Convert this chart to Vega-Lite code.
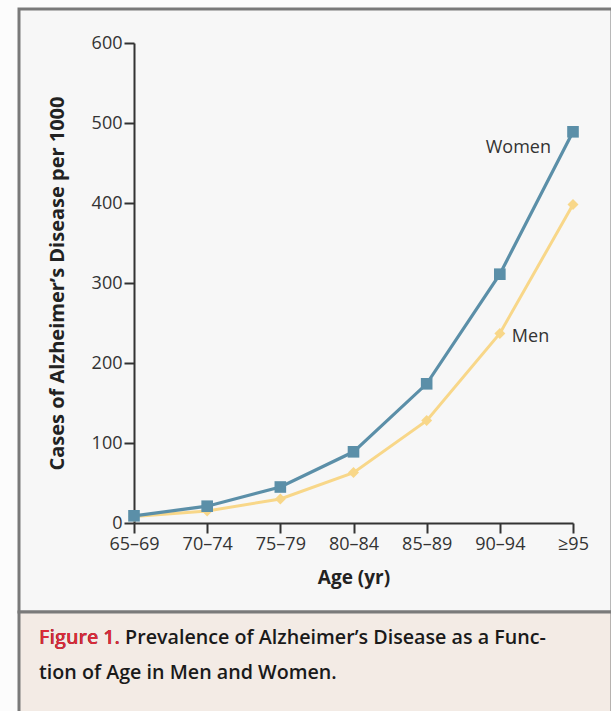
{
  "$schema": "https://vega.github.io/schema/vega-lite/v6.json",
  "background": "#fcfcfc",
  "padding": {"left": 17, "top": 7, "right": 1, "bottom": 0},
  "spacing": 0,
  "bounds": "flush",
  "config": {
    "font": "Open Sans",
    "view": {"fill": "#f7f7f7", "stroke": "#7a7a7a", "strokeWidth": 3}
  },
  "datasets": {
    "prev": [
      {"age": "65–69", "series": "Men", "cases": 8},
      {"age": "70–74", "series": "Men", "cases": 15},
      {"age": "75–79", "series": "Men", "cases": 30},
      {"age": "80–84", "series": "Men", "cases": 63},
      {"age": "85–89", "series": "Men", "cases": 128},
      {"age": "90–94", "series": "Men", "cases": 237},
      {"age": "≥95", "series": "Men", "cases": 398},
      {"age": "65–69", "series": "Women", "cases": 9},
      {"age": "70–74", "series": "Women", "cases": 21},
      {"age": "75–79", "series": "Women", "cases": 45},
      {"age": "80–84", "series": "Women", "cases": 89},
      {"age": "85–89", "series": "Women", "cases": 174},
      {"age": "90–94", "series": "Women", "cases": 311},
      {"age": "≥95", "series": "Women", "cases": 489}
    ],
    "caption": [
      {"line": 1, "text": "Figure 1. Prevalence of Alzheimer’s Disease as a Func-", "lead": "Figure 1."},
      {"line": 2, "text": "tion of Age in Men and Women.", "lead": ""}
    ]
  },
  "vconcat": [
    {
      "width": 593,
      "height": 603,
      "data": {"name": "prev"},
      "encoding": {
        "x": {
          "field": "age", "type": "ordinal",
          "sort": ["65–69", "70–74", "75–79", "80–84", "85–89", "90–94", "≥95"],
          "scale": {"type": "point", "range": [115, 554], "padding": 0},
          "axis": {
            "title": "Age (yr)", "offset": -89, "grid": false,
            "domainColor": "#333", "domainWidth": 2,
            "tickColor": "#333", "tickWidth": 2, "tickSize": 10,
            "labelAngle": 0, "labelFontSize": 18, "labelColor": "#333", "labelPadding": 2,
            "titleFontSize": 19, "titleFontWeight": "bold", "titleColor": "#222", "titlePadding": 15
          }
        },
        "y": {
          "field": "cases", "type": "quantitative",
          "scale": {"domain": [0, 600], "range": [514, 34], "nice": false},
          "axis": {
            "title": "Cases of Alzheimer’s Disease per 1000", "offset": -115, "grid": false,
            "values": [0, 100, 200, 300, 400, 500, 600],
            "domainColor": "#333", "domainWidth": 2,
            "tickColor": "#333", "tickWidth": 2, "tickSize": 10,
            "labelFontSize": 18, "labelColor": "#333", "labelPadding": 2,
            "titleFontSize": 20, "titleFontWeight": "bold", "titleColor": "#222", "titlePadding": 24
          }
        },
        "color": {
          "field": "series", "type": "nominal",
          "scale": {"domain": ["Men", "Women"], "range": ["#f8d789", "#5b8fa8"]},
          "legend": null
        }
      },
      "layer": [
        {
          "mark": {"type": "line"},
          "encoding": {
            "strokeWidth": {"field": "series", "type": "nominal", "scale": {"domain": ["Men", "Women"], "range": [3, 3.2]}, "legend": null}
          }
        },
        {
          "mark": {"type": "point", "filled": true, "opacity": 1},
          "encoding": {
            "shape": {"field": "series", "type": "nominal", "scale": {"domain": ["Men", "Women"], "range": ["diamond", "square"]}, "legend": null},
            "size": {"field": "series", "type": "nominal", "scale": {"domain": ["Men", "Women"], "range": [120, 135]}, "legend": null}
          }
        },
        {
          "transform": [{"filter": "datum.series === 'Women' && datum.age === '≥95'"}],
          "mark": {"type": "text", "align": "right", "baseline": "middle", "dx": -22, "dy": 16, "fontSize": 18, "color": "#333"},
          "encoding": {"text": {"field": "series"}, "color": {"value": "#333"}}
        },
        {
          "transform": [{"filter": "datum.series === 'Men' && datum.age === '90–94'"}],
          "mark": {"type": "text", "align": "left", "baseline": "middle", "dx": 12, "dy": 4, "fontSize": 18, "color": "#333"},
          "encoding": {"text": {"field": "series"}, "color": {"value": "#333"}}
        }
      ]
    },
    {
      "width": 593,
      "height": 103,
      "view": {"fill": "#f3ebe5", "stroke": "#7a7a7a", "strokeWidth": 3},
      "data": {"name": "caption"},
      "encoding": {
        "x": {"datum": 0, "type": "quantitative", "scale": {"domain": [0, 1], "range": [20, 593]}, "axis": null},
        "y": {"field": "line", "type": "ordinal", "scale": {"type": "point", "range": [32, 67], "padding": 0}, "axis": null}
      },
      "layer": [
        {
          "mark": {"type": "text", "align": "left", "baseline": "alphabetic", "fontSize": 19.7, "fontWeight": 600, "color": "#1a1a1a"},
          "encoding": {"text": {"field": "text"}}
        },
        {
          "mark": {"type": "text", "align": "left", "baseline": "alphabetic", "fontSize": 19.7, "fontWeight": 600, "color": "#dd2a3a"},
          "encoding": {"text": {"field": "lead"}}
        }
      ]
    }
  ]
}
